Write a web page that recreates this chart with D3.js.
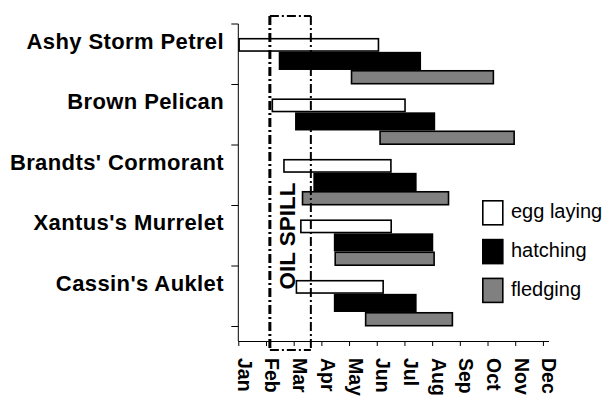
<!DOCTYPE html>
<html>
<head>
<meta charset="utf-8">
<script src="https://cdn.jsdelivr.net/npm/d3@7"></script>
<style>
  html, body { margin: 0; padding: 0; background: #fff; }
  svg { display: block; font-family: "Liberation Sans", Arial, sans-serif; }
</style>
</head>
<body>
<div id="chart"></div>
<script>
// months are read as fractional month index, 0 = start of Jan
var months = ["Jan", "Feb", "Mar", "Apr", "May", "Jun", "Jul", "Aug", "Sep", "Oct", "Nov", "Dec"];
var species = ["Ashy Storm Petrel", "Brown Pelican", "Brandts' Cormorant", "Xantus's Murrelet", "Cassin's Auklet"];

var eggStart    = [0.00, 1.20, 1.62, 2.23, 2.07];
var eggEnd      = [5.09, 6.05, 5.54, 5.55, 5.26];
var hatchStart  = [1.46, 2.05, 2.71, 3.45, 3.45];
var hatchEnd    = [6.60, 7.11, 6.44, 7.04, 6.44];
var fledgeStart = [4.06, 5.09, 2.29, 3.47, 4.57];
var fledgeEnd   = [9.24, 9.99, 7.62, 7.10, 7.76];

var phases = ["egg laying", "hatching", "fledging"];
var spill = [1.14, 2.62];

var
	width = 613,
	height = 400,
	plotTop = 24,
	plotBottom = 326.5,
	axisY = 341,

	x = d3.scaleLinear().domain([0, 11.22]).range([238.3, 549]),
	y = d3.scaleBand().domain(species).range([plotTop, plotBottom]),

	// where each phase sits inside a species band (fraction of band)
	phaseBand = { "egg laying": [0.23, 0.46], "hatching": [0.46, 0.76], "fledging": [0.76, 1.0] },
	phaseFill = { "egg laying": "#fff", "hatching": "#000", "fledging": "#808080" },

	svg = d3.select("#chart")
		.append("svg")
		.attr("width", width)
		.attr("height", height);

var bars = [];
species.forEach(function(s, i){
	bars.push({ sp: s, phase: "egg laying", a: eggStart[i], b: eggEnd[i] });
	bars.push({ sp: s, phase: "hatching", a: hatchStart[i], b: hatchEnd[i] });
	bars.push({ sp: s, phase: "fledging", a: fledgeStart[i], b: fledgeEnd[i] });
});

var sw = 1.6;
svg.append("g")
	.selectAll("rect")
	.data(bars)
	.join("rect")
	.attr("x", d => x(d.a) + sw / 2)
	.attr("width", d => x(d.b) - x(d.a) - sw)
	.attr("y", d => y(d.sp) + phaseBand[d.phase][0] * y.bandwidth() + sw / 2)
	.attr("height", d => (phaseBand[d.phase][1] - phaseBand[d.phase][0]) * y.bandwidth() - sw)
	.attr("fill", d => phaseFill[d.phase])
	.attr("stroke", "#000")
	.attr("stroke-width", sw);

// y axis: line with ticks on band boundaries
var yTicks = species.map(s => y(s)).concat([plotBottom]);
svg.append("line")
	.attr("x1", x(0)).attr("x2", x(0))
	.attr("y1", plotTop).attr("y2", axisY)
	.attr("stroke", "#000").attr("stroke-width", 1);
svg.append("g")
	.selectAll("line")
	.data(yTicks)
	.join("line")
	.attr("x1", x(0) - 7).attr("x2", x(0))
	.attr("y1", d => d).attr("y2", d => d)
	.attr("stroke", "#000").attr("stroke-width", 1);

svg.append("g")
	.selectAll("text")
	.data(species)
	.join("text")
	.attr("x", 224)
	.attr("y", d => y(d) + y.bandwidth() / 2 - 5.5)
	.attr("text-anchor", "end")
	.attr("font-size", 22)
	.attr("font-weight", "bold")
	.attr("letter-spacing", 0.4)
	.text(d => d);

// x axis
var xAxis = d3.axisBottom(x)
	.tickValues(d3.range(months.length))
	.tickSize(5)
	.tickFormat("");
svg.append("g")
	.attr("transform", "translate(0," + axisY + ")")
	.call(xAxis)
	.call(g => g.select(".domain").attr("d", "M" + x(0) + ",0.5H" + x.range()[1]))
	.call(g => g.selectAll("line").attr("stroke", "#000"));

svg.append("g")
	.selectAll("text")
	.data(months)
	.join("text")
	.attr("transform", (d, i) => "translate(" + (x(i) - 0.5) + ",358) rotate(90)")
	.attr("font-size", 19.5)
	.attr("font-weight", "bold")
	.text(d => d);

// oil spill box
var spillTop = plotTop - 8, spillBottom = axisY + 9;
var dash = "9,3,2,3";
var spillG = svg.append("g").attr("stroke", "#000").attr("fill", "none").attr("stroke-dasharray", dash);
spillG.append("line")
	.attr("x1", x(spill[0])).attr("x2", x(spill[0]))
	.attr("y1", spillTop).attr("y2", spillBottom)
	.attr("stroke-width", 3);
spillG.append("line")
	.attr("x1", x(spill[1])).attr("x2", x(spill[1]))
	.attr("y1", spillTop).attr("y2", spillBottom)
	.attr("stroke-width", 2);
spillG.append("line")
	.attr("x1", x(spill[0])).attr("x2", x(spill[1]))
	.attr("y1", spillTop).attr("y2", spillTop)
	.attr("stroke-width", 2);
spillG.append("line")
	.attr("x1", x(spill[0])).attr("x2", x(spill[1]))
	.attr("y1", spillBottom).attr("y2", spillBottom)
	.attr("stroke-width", 2);

svg.append("text")
	.attr("transform", "translate(" + (x((spill[0] + spill[1]) / 2) + 4.5) + ",236) rotate(-90)")
	.attr("text-anchor", "middle")
	.attr("font-size", 22.5)
	.attr("font-weight", "bold")
	.text("OIL SPILL");

// legend
var legend = svg.append("g")
	.selectAll("g")
	.data(phases)
	.join("g")
	.attr("transform", (d, i) => "translate(482," + (200 + i * 38.8) + ")");
legend.append("rect")
	.attr("x", 0.8).attr("y", 0.8)
	.attr("width", 20).attr("height", 24)
	.attr("fill", d => phaseFill[d])
	.attr("stroke", "#000")
	.attr("stroke-width", 1.6);
legend.append("text")
	.attr("x", 29)
	.attr("y", 18)
	.attr("font-size", 20)
	.text(d => d);
</script>
</body>
</html>
